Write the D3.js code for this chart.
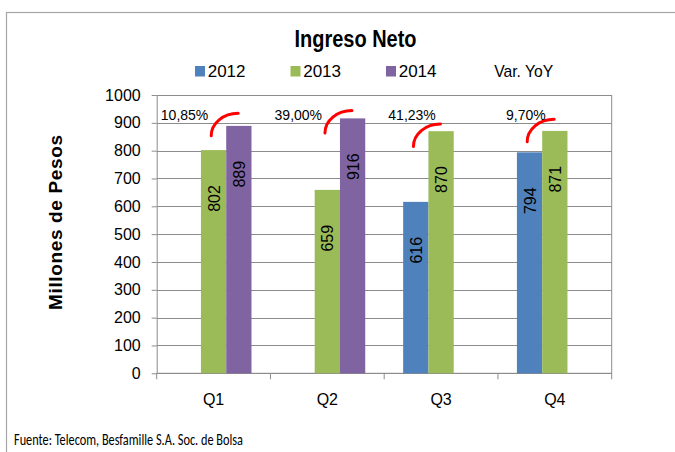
<!DOCTYPE html>
<html>
<head>
<meta charset="utf-8">
<script src="https://cdn.jsdelivr.net/npm/d3@7"></script>
<style>
  body { margin: 0; background: #fff; }
  svg { display: block; font-family: "Liberation Sans", Arial, sans-serif; }
</style>
</head>
<body>
<div id="chart"></div>
<script>
// ── Data ──────────────────────────────────────────────────────────────────────
const categories  = ['Q1', 'Q2', 'Q3', 'Q4'];
const seriesNames = ['2012', '2013', '2014'];
const values2012  = [null, null, 616, 794];
const values2013  = [802, 659, 870, 871];
const values2014  = [889, 916, null, null];
const yoyLabels   = ['10,85%', '39,00%', '41,23%', '9,70%'];
const yoyNewer    = ['2014', '2014', '2013', '2013'];   // later bar of each compared pair
const yoyArcTop   = [934, 944, 896, 913];               // top of the red arc, in millions
const yTicks      = [0, 100, 200, 300, 400, 500, 600, 700, 800, 900, 1000];

const colors = { '2012': '#4F81BD', '2013': '#9BBB59', '2014': '#8064A2' };
const gridColor = '#8c8c8c';

const W = 675, H = 452;
const plot = { left: 156.7, right: 611.7, top: 95, bottom: 373.3 };

const svg = d3.select('#chart').append('svg')
  .attr('width', W).attr('height', H);

svg.append('rect').attr('width', W).attr('height', H).attr('fill', '#fff');

// outer frame (runs off the right and bottom)
svg.append('rect')
  .attr('x', 6.5).attr('y', 12.5)
  .attr('width', W + 20).attr('height', H + 20)
  .attr('fill', 'none').attr('stroke', '#a6a6a6').attr('stroke-width', 1.2);

// ── Scales ────────────────────────────────────────────────────────────────────
const x = d3.scaleBand().domain(categories).range([plot.left, plot.right]);
const xs = d3.scaleBand().domain(seriesNames).range([0, x.bandwidth()])
  .paddingInner(0).paddingOuter(0.75);
const y = d3.scaleLinear().domain([0, 1000]).range([plot.bottom, plot.top]);

// ── Grid & axes ───────────────────────────────────────────────────────────────
svg.append('g')
  .selectAll('line').data(yTicks).join('line')
  .attr('x1', plot.left).attr('x2', plot.right)
  .attr('y1', d => Math.round(y(d)) + 0.5).attr('y2', d => Math.round(y(d)) + 0.5)
  .attr('stroke', gridColor).attr('stroke-width', 1);

svg.append('line')
  .attr('x1', plot.right).attr('x2', plot.right)
  .attr('y1', plot.top).attr('y2', plot.bottom)
  .attr('stroke', gridColor);

const yAxis = svg.append('g')
  .attr('transform', `translate(${plot.left},0)`)
  .call(d3.axisLeft(y).tickValues(yTicks).tickFormat(d3.format('d'))
    .tickSize(5).tickSizeOuter(0).tickPadding(11));
yAxis.select('.domain').attr('stroke', gridColor);
yAxis.selectAll('.tick line').attr('stroke', gridColor);
yAxis.selectAll('.tick text')
  .attr('font-size', '16px').attr('fill', '#000')
  .attr('font-family', '"Liberation Sans", Arial, sans-serif');

// x axis: ticks on category boundaries, labels centered
const xEdges = categories.map(c => x(c)).concat([x.range()[1]]);
svg.append('line')
  .attr('x1', plot.left).attr('x2', plot.right)
  .attr('y1', plot.bottom).attr('y2', plot.bottom)
  .attr('stroke', gridColor);
svg.append('g')
  .selectAll('line').data(xEdges).join('line')
  .attr('x1', d => d).attr('x2', d => d)
  .attr('y1', plot.bottom).attr('y2', plot.bottom + 6)
  .attr('stroke', gridColor);
svg.append('g')
  .selectAll('text').data(categories).join('text')
  .attr('x', d => x(d) + x.bandwidth() / 2)
  .attr('y', 405)
  .attr('text-anchor', 'middle')
  .attr('font-size', '16px')
  .text(d => d);

// ── Bars ──────────────────────────────────────────────────────────────────────
const seriesValues = { '2012': values2012, '2013': values2013, '2014': values2014 };
const bars = [];
seriesNames.forEach(s => {
  seriesValues[s].forEach((v, i) => {
    if (v != null) bars.push({ series: s, cat: categories[i], value: v });
  });
});

svg.append('g')
  .selectAll('rect').data(bars).join('rect')
  .attr('x', d => x(d.cat) + xs(d.series))
  .attr('y', d => y(d.value))
  .attr('width', xs.bandwidth())
  .attr('height', d => y(0) - y(d.value))
  .attr('fill', d => colors[d.series]);

// rotated value labels inside bars
svg.append('g')
  .selectAll('text').data(bars).join('text')
  .attr('transform', d =>
    `translate(${x(d.cat) + xs(d.series) + xs.bandwidth() / 2 + 6},${y(d.value) + 35}) rotate(-90)`)
  .attr('text-anchor', 'end')
  .attr('font-size', '16px')
  .attr('fill', '#000')
  .text(d => d.value);

// ── Var. YoY annotations ──────────────────────────────────────────────────────
const yoy = categories.map((c, i) => {
  const b = x(c) + xs(yoyNewer[i]);
  return { cat: c, label: yoyLabels[i], left: b - 15, right: b + 12, top: y(yoyArcTop[i]) };
});
const arcH = 22.5;

svg.append('g')
  .selectAll('path').data(yoy).join('path')
  .attr('d', d => `M${d.left},${d.top + arcH} A${d.right - d.left},${arcH} 0 0 1 ${d.right},${d.top}`)
  .attr('fill', 'none')
  .attr('stroke', '#ff0000')
  .attr('stroke-width', 3)
  .attr('stroke-linecap', 'round');

svg.append('g')
  .selectAll('text').data(yoy).join('text')
  .attr('x', d => x(d.cat) + x.bandwidth() / 2 - 29)
  .attr('y', y(910))
  .attr('text-anchor', 'middle')
  .attr('font-size', '14px')
  .text(d => d.label);

// ── Title, legend, axis title, source ─────────────────────────────────────────
svg.append('text')
  .attr('x', 355.5).attr('y', 46.7)
  .attr('text-anchor', 'middle')
  .attr('font-size', '23px').attr('font-weight', 'bold')
  .attr('textLength', 122).attr('lengthAdjust', 'spacingAndGlyphs')
  .text('Ingreso Neto');

const legendItems = seriesNames.map(s => ({ name: s, color: colors[s] }))
  .concat([{ name: 'Var. YoY', color: null }]);
const legend = svg.append('g')
  .selectAll('g').data(legendItems).join('g')
  .attr('transform', (d, i) => `translate(${195 + i * 95.5},0)`);
legend.filter(d => d.color)
  .append('rect')
  .attr('x', 0).attr('y', 66).attr('width', 10).attr('height', 10.5)
  .attr('fill', d => d.color);
legend.append('text')
  .attr('x', 12.7).attr('y', 76.7)
  .attr('font-size', '17px')
  .text(d => d.name)
  .each(function (d) {
    if (!d.color) d3.select(this).attr('textLength', 59).attr('lengthAdjust', 'spacingAndGlyphs');
  });

svg.append('text')
  .attr('transform', 'translate(61.5,222.5) rotate(-90)')
  .attr('text-anchor', 'middle')
  .attr('font-size', '19px').attr('font-weight', 'bold')
  .attr('textLength', 175).attr('lengthAdjust', 'spacing')
  .text('Millones de Pesos');

svg.append('text')
  .attr('x', 14).attr('y', 445)
  .attr('font-family', 'Carlito, "Liberation Sans Narrow", Lato, sans-serif')
  .attr('font-size', '15.5px')
  .attr('textLength', 229).attr('lengthAdjust', 'spacingAndGlyphs')
  .text('Fuente: Telecom, Besfamille S.A. Soc. de Bolsa');
</script>
</body>
</html>
